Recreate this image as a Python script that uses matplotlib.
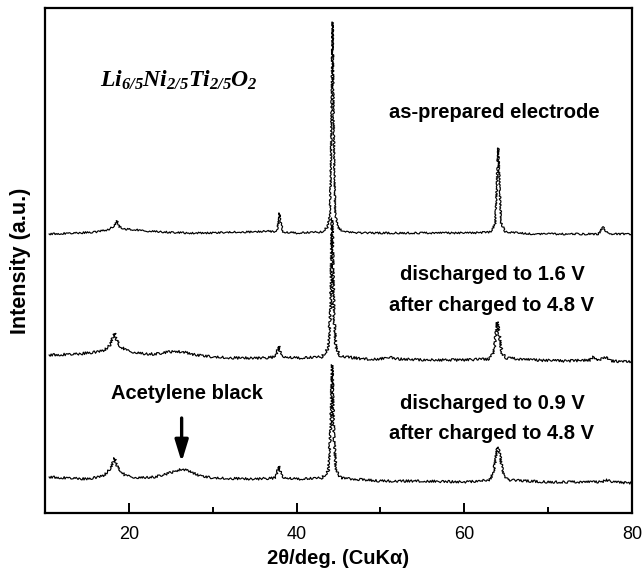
import matplotlib
matplotlib.use('Agg')
import matplotlib.pyplot as plt

plt.rcParams['font.family'] = ['Liberation Sans', 'DejaVu Sans']
plt.rcParams['mathtext.fontset'] = 'custom'
plt.rcParams['mathtext.it'] = 'Liberation Serif:bold:italic'
plt.rcParams['mathtext.rm'] = 'Liberation Serif:bold:italic'
plt.rcParams['mathtext.default'] = 'it'

# XRD patterns (2theta, stacked intensity in a.u.)
x_top = [10.5, 14, 16, 17.5, 18.3, 18.6, 18.9, 19.5, 21, 22, 24, 27, 30, 33, 35, 36.5,
         37.6, 37.85, 38.0, 38.15, 38.4, 40, 43.0, 43.7, 44.0, 44.15, 44.3, 44.45, 44.6,
         44.9, 45.6, 48, 52, 55, 58, 61, 63.2, 63.7, 63.9, 64.05, 64.2, 64.4, 64.9, 68,
         72, 76.0, 76.4, 76.6, 76.9, 77.5, 80]
y_top = [279, 280, 281, 283, 287, 292, 286, 284, 283, 282, 281, 280, 280, 281, 281, 282,
         281, 290, 300, 290, 281, 280, 281, 286, 300, 380, 491, 380, 300,
         286, 281, 280, 280, 280, 280, 280, 281, 290, 330, 365, 330, 290, 281, 279,
         279, 279, 284, 286, 281, 279, 279]

x_mid = [10.5, 14, 17, 17.8, 18.3, 18.6, 19, 20, 21, 22, 23, 24, 25.5, 26.5, 28, 30, 33,
         36, 37.5, 37.9, 38.2, 40, 43, 43.8, 44.05, 44.25, 44.45, 44.7, 45.2, 48, 50, 51,
         52, 56, 60, 63, 63.5, 63.8, 63.95, 64.15, 64.5, 65, 68, 72, 75, 75.4, 75.8, 76.6,
         77, 77.5, 80]
y_mid = [158, 159, 162, 168, 180, 172, 166, 162, 160, 159, 159, 160, 162, 161, 158, 156, 155,
         155, 156, 167, 157, 155, 156, 165, 200, 295, 200, 165, 157, 154, 154, 156,
         154, 153, 153, 154, 160, 180, 191, 180, 160, 155, 153, 152, 153, 156, 152, 155,
         156, 152, 151]

x_bot = [10.5, 15, 17, 17.9, 18.3, 18.7, 19.5, 21, 23, 24.5, 25.5, 26.3, 27.2, 28.5, 30,
         35, 37.5, 37.9, 38.3, 40, 43, 43.8, 44.05, 44.25, 44.45, 44.7, 45.3, 50, 55, 60,
         63, 63.5, 63.8, 64.0, 64.25, 64.6, 65.2, 70, 76.3, 77, 77.6, 80]
y_bot = [36, 34, 37, 45, 55, 45, 38, 35, 36, 39, 42, 44, 42, 37, 35,
         34, 35, 47, 36, 34, 35, 42, 80, 148, 80, 42, 35, 32, 32, 31,
         33, 40, 58, 66, 58, 40, 33, 31, 31, 33, 31, 30]

fig = plt.figure(figsize=(6.42, 5.72), dpi=100)
ax = fig.add_axes([0.070, 0.1031, 0.9144, 0.883])

# sketch amplitude per scan: the cycled electrodes are noisier
for xs, ys, amp in [(x_top, y_top, 0.9), (x_mid, y_mid, 1.3), (x_bot, y_bot, 1.2)]:
    line, = ax.plot(xs, ys, color='black', lw=0.85)
    line.set_sketch_params(amp, 1.2, 3)

ax.set_xlim(10, 80)
ax.set_ylim(0, 505)
ax.set_yticks([])
ax.set_xticks([20, 40, 60, 80])
ax.set_xticks([30, 50, 70], minor=True)
ax.tick_params(axis='x', which='major', direction='in', length=7, width=1.4,
               labelsize=13, pad=9)
ax.tick_params(axis='x', which='minor', direction='in', length=4, width=1.4)
for sp in ax.spines.values():
    sp.set_linewidth(1.6)

ax.set_xlabel('2θ/deg. (CuKα)', fontsize=14.5, fontweight='bold', labelpad=5)
ax.set_ylabel('Intensity (a.u.)', fontsize=15.5, fontweight='bold', labelpad=10)

ax.text(26.0, 433, r'$Li_{6/5}Ni_{2/5}Ti_{2/5}O_2$', fontsize=17, ha='center', va='center')
ax.text(63.6, 400, 'as-prepared electrode', fontsize=14.5, fontweight='bold', ha='center', va='center')
ax.text(63.3, 238, 'discharged to 1.6 V', fontsize=14.5, fontweight='bold', ha='center', va='center')
ax.text(63.3, 207, 'after charged to 4.8 V', fontsize=14.5, fontweight='bold', ha='center', va='center')
ax.text(63.3, 110, 'discharged to 0.9 V', fontsize=14.5, fontweight='bold', ha='center', va='center')
ax.text(63.3, 80, 'after charged to 4.8 V', fontsize=14.5, fontweight='bold', ha='center', va='center')
ax.text(26.9, 120, 'Acetylene black', fontsize=14.5, fontweight='bold', ha='center', va='center')

ax.annotate('', xy=(26.3, 51), xytext=(26.3, 95),
            arrowprops=dict(arrowstyle='-|>,head_length=1.3,head_width=0.4',
                            lw=2.4, color='black', shrinkA=0, shrinkB=0))

fig.savefig('out.png', dpi=100)
